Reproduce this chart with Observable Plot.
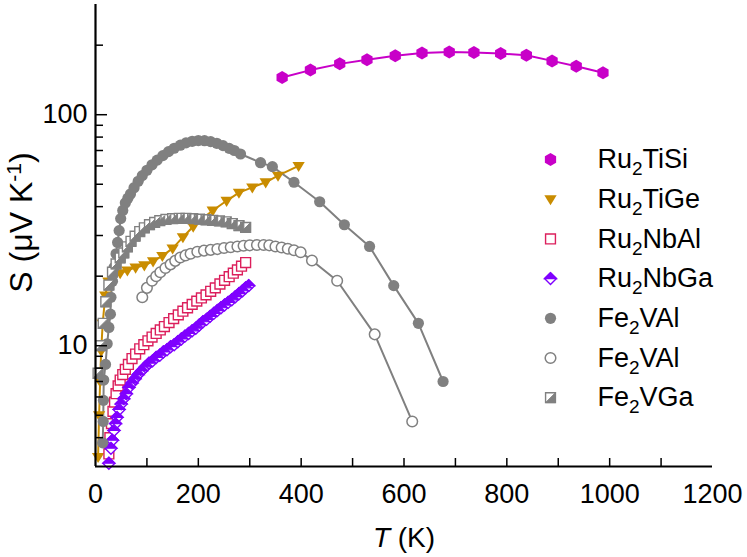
<!DOCTYPE html>
<html><head><meta charset="utf-8">
<script src="https://cdn.jsdelivr.net/npm/d3@7"></script>
<script src="https://cdn.jsdelivr.net/npm/@observablehq/plot@0.6"></script>
<style>body{margin:0;background:#fff}</style>
</head><body><div id="chart"></div>
<script>
// ---- data (T in K, S in µV/K) ----
const ru2tisiT = [363, 418, 475, 528, 583, 635, 688, 736, 788, 838, 888, 935, 987];
const ru2tisiS = [145, 156, 166, 173, 180, 185, 187, 186, 184, 181, 171, 162, 152];

const ru2tigeT = [5, 7, 9, 11, 14, 19, 25, 35, 48, 62, 78, 95, 112, 130, 150, 170, 190, 208, 228, 255, 279, 305, 331, 355, 395];
const ru2tigeS = [3.3, 5, 7, 9.5, 12.5, 16.5, 19, 20, 20.6, 21.2, 21.8, 22.3, 23.2, 24.5, 26.4, 29.5, 32.8, 35.5, 38.5, 42.4, 46, 48.5, 51, 54.5, 60];

const ru2nbalT = [26, 28, 31, 34, 37, 40, 44, 48, 53, 58, 64, 71, 78, 86, 94, 102, 110, 118, 126, 134, 143, 152, 161, 170, 179, 188, 197, 206, 215, 224, 233, 242, 251, 260, 268, 276, 284, 292];
const ru2nbalS = [3.4, 4.0, 4.6, 5.2, 5.7, 6.2, 6.7, 7.1, 7.5, 7.9, 8.3, 8.8, 9.2, 9.7, 10.1, 10.5, 10.9, 11.3, 11.7, 12.1, 12.6, 13.1, 13.6, 14.1, 14.6, 15.1, 15.6, 16.1, 16.6, 17.2, 17.8, 18.5, 19.2, 19.9, 20.6, 21.3, 22.1, 22.9];

const ru2nbgaT = [26, 30, 33, 36, 39, 42, 46, 50, 55, 60, 65, 71, 77, 83, 90, 97, 104, 111, 118, 125, 132, 139, 146, 153, 160, 167, 174, 181, 188, 195, 202, 209, 216, 223, 230, 237, 244, 251, 258, 265, 272, 279, 286, 292, 298];
const ru2nbgaS = [3.1, 3.6, 3.9, 4.3, 4.6, 4.9, 5.3, 5.6, 5.9, 6.2, 6.6, 6.9, 7.2, 7.5, 7.8, 8.1, 8.4, 8.6, 8.9, 9.1, 9.4, 9.6, 9.9, 10.1, 10.4, 10.7, 11.0, 11.3, 11.6, 11.9, 12.3, 12.7, 13.0, 13.4, 13.8, 14.2, 14.6, 15.0, 15.4, 15.8, 16.3, 16.8, 17.3, 17.8, 18.2];

const fe2valT = [14, 15, 15.5, 16, 19.5, 22.7, 26, 29, 30, 33, 36, 40, 43, 46, 49, 53, 58, 63, 68, 75, 83, 91, 100, 110, 120, 131, 142, 153, 165, 176, 188, 200, 212, 224, 236, 248, 260, 270, 282, 321, 344, 386, 436, 484, 533, 580, 628, 676];
const fe2valS = [3.8, 4.7, 5.8, 7.1, 8.3, 10.2, 12, 13.7, 16.2, 19, 21.8, 25, 28, 31.5, 35.5, 38.5, 41.5, 43.5, 45.4, 48.3, 51.5, 54.5, 57.5, 60.7, 63.6, 66.5, 69.2, 71.6, 73.8, 75.5, 76.7, 77.3, 77.2, 76.5, 75.2, 73.5, 71.5, 70, 67.6, 62, 59.6, 51, 42, 33.4, 26.9, 18.2, 12.5, 7.0];

const fe2valOpenT = [91, 100, 110, 118, 126, 136, 146, 155, 165, 175, 185, 198, 211, 224, 237, 250, 263, 276, 288, 300, 314, 327, 338, 350, 362, 374, 386, 399, 421, 470, 543, 616];
const fe2valOpenS = [16.2, 17.8, 19.1, 20, 20.8, 21.7, 22.5, 23.3, 24.1, 24.6, 25, 25.5, 25.8, 26, 26.2, 26.5, 26.7, 26.9, 27.1, 27.2, 27.3, 27.3, 27.2, 26.9, 26.6, 26.3, 25.9, 25.4, 23.4, 19.1, 11.2, 4.7];

const fe2vgaT = [5, 10, 15, 20, 26, 33, 40, 48, 55, 62, 69, 77, 86, 95, 105, 115, 125, 137, 150, 163, 176, 189, 202, 215, 228, 241, 254, 266, 279, 292];
const fe2vgaS = [7.6, 10, 12.5, 15.5, 18.3, 20.8, 22.6, 24, 25.2, 26.8, 28.3, 29.8, 31.2, 32.4, 33.4, 34.2, 34.8, 35.2, 35.5, 35.6, 35.6, 35.5, 35.3, 35.1, 34.9, 34.7, 34.4, 33.8, 33.1, 32.5];

const legendLabels = ["Ru2TiSi", "Ru2TiGe", "Ru2NbAl", "Ru2NbGa", "Fe2VAl", "Fe2VAl", "Fe2VGa"];
const xTickLabels = [0, 200, 400, 600, 800, 1000, 1200];
const xTicksAll = [100, 200, 300, 400, 500, 600, 700, 800, 900, 1000, 1100];
const yTickLabels = [10, 100];
const yTicksMinor = [4, 5, 6, 7, 8, 9, 20, 30, 40, 50, 60, 70, 80, 90, 200];
const xTitle = "T (K)";
const yTitle = "S (μV K-1)";

// ---- symbols ----
const R = s => Math.sqrt(s / Math.PI);
const symHex = {draw(c, s) { const r = R(s) * 1.12; for (let i = 0; i < 6; i++) { const a = -Math.PI / 2 + i * Math.PI / 3; const x = r * Math.cos(a), y = r * Math.sin(a); if (i) c.lineTo(x, y); else c.moveTo(x, y); } c.closePath(); }};
const symTriDown = {draw(c, s) { const r = R(s); c.moveTo(-r * 1.1, -r * 0.7); c.lineTo(r * 1.1, -r * 0.7); c.lineTo(0, r * 1.1); c.closePath(); }};
const symDiamond = {draw(c, s) { const r = R(s) * 1.15; c.moveTo(0, -r); c.lineTo(r, 0); c.lineTo(0, r); c.lineTo(-r, 0); c.closePath(); }};
const symDiamondTop = {draw(c, s) { const r = R(s) * 1.15; c.moveTo(0, -r); c.lineTo(r, 0); c.lineTo(-r, 0); c.closePath(); }};
const symSquare = {draw(c, s) { const h = R(s) * 0.88; c.moveTo(-h, -h); c.lineTo(h, -h); c.lineTo(h, h); c.lineTo(-h, h); c.closePath(); }};
const symSquareHalf = {draw(c, s) { const h = R(s) * 0.88; c.moveTo(h, -h); c.lineTo(h, h); c.lineTo(-h, h); c.closePath(); }};

const zip = (T, S) => T.map((t, i) => ({T: t, S: S[i]}));

const MAG = "#c800c8", GOLD = "#c98c00", CRIM = "#dc1f5c", VIO = "#7f00ff", GRAY = "#808080";

const series = [
  {data: zip(ru2tigeT, ru2tigeS), line: GOLD, layers: [{symbol: symTriDown, fill: GOLD, stroke: "none", r: 5.6}]},
  {data: zip(ru2nbalT, ru2nbalS), line: CRIM, layers: [{symbol: symSquare, fill: "white", stroke: CRIM, strokeWidth: 1.4, r: 5.6}]},
  {data: zip(ru2nbgaT, ru2nbgaS), line: VIO, layers: [{symbol: symDiamond, fill: "white", stroke: VIO, strokeWidth: 1.4, r: 5.2}, {symbol: symDiamondTop, fill: VIO, stroke: VIO, strokeWidth: 1.2, r: 5.2}]},
  {data: zip(fe2valT, fe2valS), line: GRAY, layers: [{symbol: "circle", fill: GRAY, stroke: "none", r: 5.6}]},
  {data: zip(fe2valOpenT, fe2valOpenS), line: GRAY, layers: [{symbol: "circle", fill: "white", stroke: GRAY, strokeWidth: 1.5, r: 5.3}]},
  {data: zip(fe2vgaT, fe2vgaS), line: null, layers: [{symbol: symSquare, fill: "white", stroke: GRAY, strokeWidth: 1.4, r: 5.6}, {symbol: symSquareHalf, fill: GRAY, stroke: GRAY, strokeWidth: 1, r: 5.6}]},
  {data: zip(ru2tisiT, ru2tisiS), line: MAG, layers: [{symbol: symHex, fill: MAG, stroke: "none", r: 5.8}]}
];
const legendLayers = [series[6].layers, series[0].layers, series[1].layers, series[2].layers, series[3].layers, series[4].layers, series[5].layers];

const marks = [];
for (const s of series) {
  if (s.line) marks.push(Plot.line(s.data, {x: "T", y: "S", stroke: s.line, strokeWidth: 2}));
}
for (const s of series) {
  for (const L of s.layers) marks.push(Plot.dot(s.data, {x: "T", y: "S", ...L}));
}
// legend
legendLabels.forEach((lab, i) => {
  const dy = 155 + 39.7 * i;
  for (const L of legendLayers[i]) marks.push(Plot.dot([lab], {x: null, y: null, frameAnchor: "top-left", dx: 455, dy, ...L}));
  marks.push(Plot.text([lab], {x: null, y: null, text: d => d, frameAnchor: "top-left", dx: 502, dy, textAnchor: "start", lineAnchor: "middle", fontSize: 27, fill: "black"}));
});
// axes
marks.push(
  Plot.axisX({ticks: xTicksAll, tickSize: -8, text: null, label: null, strokeWidth: 1.5}),
  Plot.axisX({ticks: xTickLabels, tickSize: 0, tickPadding: 17, fontSize: 27, label: null, tickFormat: d => String(d)}),
  Plot.axisY({ticks: yTickLabels, tickSize: -12, text: null, label: null, strokeWidth: 1.5}),
  Plot.axisY({ticks: yTicksMinor, tickSize: -8, text: null, label: null, strokeWidth: 1.5}),
  Plot.axisY({ticks: yTickLabels, tickSize: 0, tickPadding: 8, fontSize: 27, label: null, tickFormat: d => String(d)}),
  Plot.ruleX([0], {strokeWidth: 2.2}),
  Plot.ruleY([3], {strokeWidth: 2.2}),
  Plot.text([xTitle], {x: null, y: null, text: d => d, frameAnchor: "bottom", dy: 72, textAnchor: "middle", lineAnchor: "middle", fontSize: 28, fill: "black"}),
  Plot.text([yTitle], {x: null, y: null, text: d => d, frameAnchor: "left", dx: -74, dy: -13, rotate: -90, textAnchor: "middle", lineAnchor: "middle", fontSize: 32, fill: "black"})
);

const chart = Plot.plot({
  width: 747, height: 557,
  marginLeft: 95, marginRight: 35, marginTop: 4, marginBottom: 91,
  x: {domain: [0, 1200]},
  y: {type: "log", domain: [3, 300]},
  style: {fontFamily: "'Liberation Sans', Arial, sans-serif", background: "white", color: "black"},
  marks
});
document.getElementById("chart").appendChild(chart);

// rich text: subscripts, superscripts, italics
const NS = "http://www.w3.org/2000/svg";
function setParts(el, parts) {
  el.textContent = "";
  for (const p of parts) {
    const t = document.createElementNS(NS, "tspan");
    t.textContent = p.t;
    if (p.dy) t.setAttribute("dy", p.dy);
    if (p.size) t.setAttribute("font-size", p.size);
    if (p.italic) t.setAttribute("font-style", "italic");
    el.appendChild(t);
  }
}
chart.querySelectorAll("text").forEach(el => {
  const s = el.textContent;
  if (legendLabels.includes(s)) {
    const k = s.indexOf("2");
    setParts(el, [{t: s.slice(0, k)}, {t: "2", dy: 7, size: 19}, {t: s.slice(k + 1), dy: -7}]);
  } else if (s === xTitle) {
    setParts(el, [{t: "T", italic: true}, {t: " (K)"}]);
  } else if (s === yTitle) {
    setParts(el, [{t: "S (μV K"}, {t: "-1", dy: -11, size: 21}, {t: ")", dy: 11}]);
  }
});
</script></body></html>
